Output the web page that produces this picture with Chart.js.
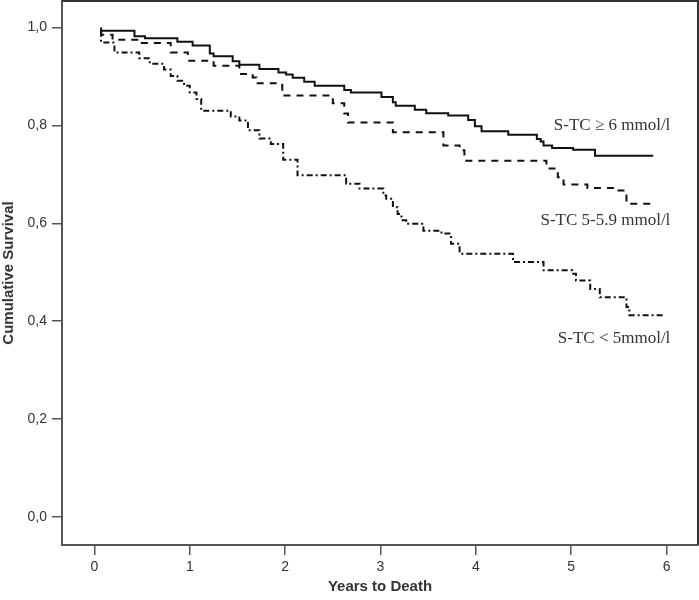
<!DOCTYPE html>
<html>
<head>
<meta charset="utf-8">
<script src="https://cdn.jsdelivr.net/npm/chart.js@4.4.0/dist/chart.umd.min.js"></script>
<style>
  html, body { margin: 0; padding: 0; background: #fff; }
  #wrap { width: 699px; height: 600px; }
</style>
</head>
<body>
<div id="wrap"><canvas id="kmChart" width="699" height="600"></canvas></div>
<script>
// Kaplan-Meier curves (years, cumulative survival)
const groupNames = ['S-TC ≥ 6 mmol/l', 'S-TC 5-5.9 mmol/l', 'S-TC < 5mmol/l'];

const timeHigh = [0.07, 0.42, 0.53, 0.87, 1.03, 1.21, 1.25, 1.45, 1.52, 1.73, 1.93, 2.01, 2.08, 2.20, 2.31, 2.62, 2.69, 3.01,
  3.13, 3.16, 3.36, 3.48, 3.71, 3.92, 3.99, 4.06, 4.34, 4.64, 4.68, 4.71, 4.80, 5.02, 5.25, 5.37, 5.86];
const survHigh = [1.000, 0.993, 0.982, 0.978, 0.971, 0.963, 0.947, 0.941, 0.931, 0.924, 0.915, 0.908, 0.904, 0.897, 0.889, 0.881, 0.872, 0.867,
  0.858, 0.847, 0.840, 0.832, 0.825, 0.820, 0.811, 0.798, 0.788, 0.781, 0.772, 0.767, 0.759, 0.754, 0.750, 0.738, 0.738];

const timeMid = [0.07, 0.19, 0.45, 0.80, 0.98, 1.25, 1.52, 1.66, 1.70, 1.97, 2.50, 2.62, 2.66, 3.13, 3.66, 3.83, 3.88,
  4.74, 4.86, 4.92, 5.17, 5.44, 5.58, 5.67, 5.86];
const survMid = [0.993, 0.985, 0.975, 0.968, 0.949, 0.932, 0.922, 0.905, 0.898, 0.886, 0.861, 0.845, 0.824, 0.806, 0.786, 0.759, 0.749,
  0.728, 0.712, 0.694, 0.679, 0.672, 0.667, 0.640, 0.640];

const timeLow = [0.07, 0.21, 0.47, 0.58, 0.73, 0.80, 0.87, 0.94, 1.00, 1.07, 1.12, 1.43, 1.52, 1.61, 1.73, 1.85, 1.98, 2.13,
  2.64, 2.78, 3.03, 3.06, 3.13, 3.18, 3.22, 3.27, 3.45, 3.64, 3.74, 3.83, 4.39, 4.71, 5.01, 5.05, 5.20, 5.30, 5.58, 5.61, 5.67, 5.97];
const survLow = [0.993, 0.969, 0.949, 0.937, 0.926, 0.914, 0.901, 0.891, 0.881, 0.867, 0.854, 0.830, 0.818, 0.810, 0.790, 0.773, 0.762, 0.730,
  0.698, 0.681, 0.671, 0.657, 0.650, 0.633, 0.619, 0.606, 0.599, 0.585, 0.579, 0.558, 0.538, 0.521, 0.504, 0.497, 0.483, 0.466, 0.449, 0.429, 0.412, 0.412];

const xTickValues = [0, 1, 2, 3, 4, 5, 6];
const yTickValues = [0, 0.2, 0.4, 0.6, 0.8, 1.0];

// where the curve names sit (data units, right aligned)
const labelAnchors = [
  { x: 6.04, y: 0.800 },
  { x: 6.04, y: 0.606 },
  { x: 6.04, y: 0.365 }
];

function zip(ts, ss) {
  return ts.map((t, i) => ({ x: t, y: ss[i] }));
}

const ctx = document.getElementById('kmChart');
const axisColor = '#555';
const textColor = '#333';

// frame on top and right of the plot box
const framePlugin = {
  id: 'frame',
  afterDraw(chart) {
    const a = chart.chartArea;
    const c = chart.ctx;
    c.save();
    c.strokeStyle = '#333';
    c.lineWidth = 2;
    c.beginPath();
    c.moveTo(a.left, a.top);
    c.lineTo(a.right, a.top);
    c.lineTo(a.right, a.bottom);
    c.stroke();
    c.restore();
  }
};

// curve names
const namesPlugin = {
  id: 'names',
  afterDatasetsDraw(chart) {
    const c = chart.ctx;
    const xs = chart.scales.x, ys = chart.scales.y;
    c.save();
    c.font = '17px "Liberation Serif", "Times New Roman", serif';
    c.fillStyle = textColor;
    c.textAlign = 'right';
    c.textBaseline = 'middle';
    groupNames.forEach((n, i) => {
      c.fillText(n, xs.getPixelForValue(labelAnchors[i].x), ys.getPixelForValue(labelAnchors[i].y));
    });
    c.restore();
  }
};

new Chart(ctx, {
  type: 'line',
  data: {
    datasets: [{
      label: groupNames[0],
      data: zip(timeHigh, survHigh),
      borderColor: '#111',
      borderWidth: 2,
      stepped: 'after',
      pointRadius: 0
    }, {
      label: groupNames[1],
      data: zip(timeMid, survMid),
      borderColor: '#111',
      borderWidth: 2,
      borderDash: [7, 6],
      stepped: 'after',
      pointRadius: 0
    }, {
      label: groupNames[2],
      data: zip(timeLow, survLow),
      borderColor: '#111',
      borderWidth: 2,
      borderDash: [6, 3, 2, 3],
      stepped: 'after',
      pointRadius: 0
    }]
  },
  options: {
    responsive: false,
    animation: false,
    devicePixelRatio: 1,
    layout: { padding: { top: 1, right: 1, left: 0, bottom: 0 } },
    plugins: {
      legend: { display: false },
      tooltip: { enabled: false }
    },
    scales: {
      x: {
        type: 'linear',
        min: -0.34,
        max: 6.33,
        afterBuildTicks: s => { s.ticks = xTickValues.map(v => ({ value: v })); },
        afterFit: s => { s.height = 55; s.paddingLeft = 0; s.paddingRight = 0; },
        ticks: {
          color: textColor,
          font: { family: '"Liberation Sans", Arial, sans-serif', size: 14 },
          padding: 4,
          maxRotation: 0,
          callback: v => String(v)
        },
        grid: {
          drawOnChartArea: false,
          drawTicks: true,
          tickLength: 10,
          tickColor: axisColor,
          lineWidth: 1.5
        },
        border: { display: true, color: axisColor, width: 2 },
        title: {
          display: true,
          text: 'Years to Death',
          color: textColor,
          font: { family: '"Liberation Sans", Arial, sans-serif', size: 15, weight: 'bold' },
          padding: { top: 0, bottom: 4 }
        }
      },
      y: {
        type: 'linear',
        min: -0.057,
        max: 1.054,
        afterBuildTicks: s => { s.ticks = yTickValues.map(v => ({ value: v })); },
        afterFit: s => { s.width = 62; s.paddingTop = 0; s.paddingBottom = 0; },
        ticks: {
          color: textColor,
          font: { family: '"Liberation Sans", Arial, sans-serif', size: 14 },
          padding: 5,
          callback: v => v.toFixed(1).replace('.', ',')
        },
        grid: {
          drawOnChartArea: false,
          drawTicks: true,
          tickLength: 10,
          tickColor: axisColor,
          lineWidth: 1.5
        },
        border: { display: true, color: axisColor, width: 2 },
        title: {
          display: true,
          text: 'Cumulative Survival',
          color: textColor,
          font: { family: '"Liberation Sans", Arial, sans-serif', size: 15, weight: 'bold' },
          padding: { top: 0, bottom: 0 }
        }
      }
    }
  },
  plugins: [framePlugin, namesPlugin]
});
</script>
</body>
</html>
